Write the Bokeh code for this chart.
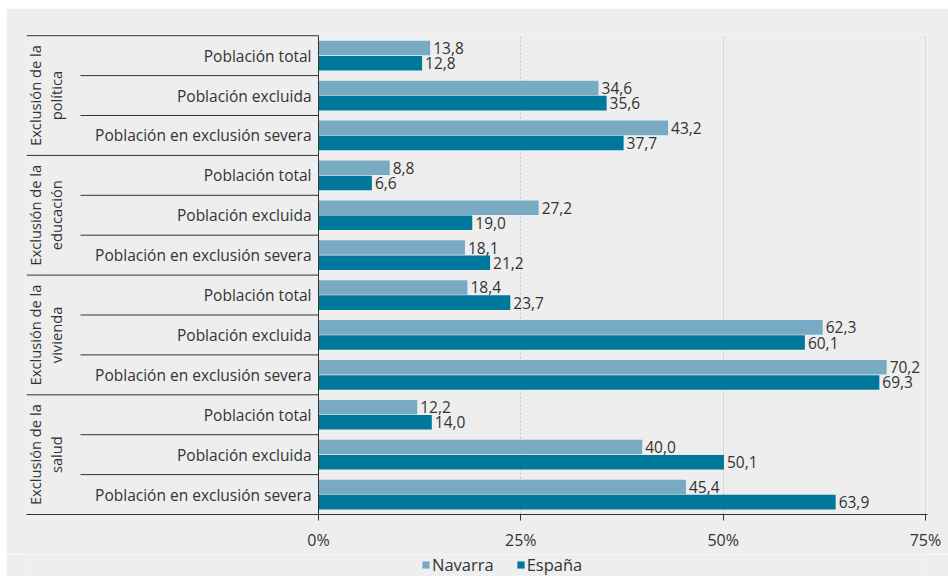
import math
from bokeh.plotting import figure
from bokeh.layouts import column
from bokeh.models import (Range1d, FixedTicker, Legend, LegendItem, ColumnDataSource)
from bokeh.core.properties import value
from bokeh.embed import file_html
from bokeh.resources import INLINE

# ---- data ----
groups = ["Exclusión de la\npolítica", "Exclusión de la\neducación",
          "Exclusión de la\nvivienda", "Exclusión de la\nsalud"]
subcats = ["Población total", "Población excluida", "Población en exclusión severa"]
navarra = [13.8, 34.6, 43.2, 8.8, 27.2, 18.1, 18.4, 62.3, 70.2, 12.2, 40.0, 45.4]
espana = [12.8, 35.6, 37.7, 6.6, 19.0, 21.2, 23.7, 60.1, 69.3, 14.0, 50.1, 63.9]
tick_values = [0, 25, 50, 75]
tick_labels = ["0%", "25%", "50%", "75%"]
series_names = ["Navarra", "España"]

# ---- style ----
FONT = "Open Sans"
TXT = "#333333"
BG = "#eeeeee"
C_NAV = "#78abc3"
C_ESP = "#00789b"
LINE = "#333333"

n_rows = len(navarra)
W, H = 942, 546
LEG_H = 22
S = 8.093                      # px per unit
zero_px = 312
left_b = 20
right_b = 21
x_start = -(zero_px - left_b) / S
x_end = 75 + (W - right_b - (zero_px + 75 * S)) / S

p = figure(width=W, height=H, output_backend="svg", toolbar_location=None,
           x_range=Range1d(x_start, x_end), y_range=Range1d(0, n_rows + 0.03),
           y_axis_location=None, min_border_left=left_b, min_border_right=right_b,
           min_border_top=26, min_border_bottom=40)
p.margin = (8, 0, 0, 6)
p.background_fill_color = BG
p.border_fill_color = BG
p.outline_line_color = None
p.ygrid.grid_line_color = None
p.xgrid.ticker = FixedTicker(ticks=tick_values[1:])
p.xgrid.grid_line_color = "#c4c4c4"
p.xgrid.grid_line_dash = "2 2"
p.xgrid.grid_line_width = 1

ax = p.xaxis[0]
ax.ticker = FixedTicker(ticks=tick_values)
ax.major_label_overrides = {v: l for v, l in zip(tick_values, tick_labels)}
ax.minor_tick_line_color = None
ax.major_tick_in = 0
ax.major_tick_out = 6
ax.major_tick_line_color = LINE
ax.axis_line_color = LINE
ax.major_label_standoff = 8
ax.major_label_text_font = FONT
ax.major_label_text_font_size = "16px"
ax.major_label_text_color = TXT

# row centers (top row first)
yc = [n_rows - i - 0.5 for i in range(n_rows)]
off = 0.19
bh = 0.365
src = ColumnDataSource(dict(
    y_nav=[y + off for y in yc], y_esp=[y - off for y in yc],
    nav=navarra, esp=espana,
    nav_lab=[f"{v:.1f}".replace(".", ",") for v in navarra],
    esp_lab=[f"{v:.1f}".replace(".", ",") for v in espana],
    yc=yc, row_lab=[subcats[i % 3] for i in range(n_rows)],
))

p.hbar(y="y_nav", left=0, right="nav", height=bh, source=src,
       fill_color=C_NAV, line_color=None)
p.hbar(y="y_esp", left=0, right="esp", height=bh, source=src,
       fill_color=C_ESP, line_color=None)

for xcol, ycol, lab in [("nav", "y_nav", "nav_lab"), ("esp", "y_esp", "esp_lab")]:
    p.text(x=xcol, y=ycol, text=lab, source=src, x_offset=3,
           text_align="left", text_baseline="middle",
           text_font=value(FONT), text_font_size="15.5px", text_color=TXT)

# row labels
p.text(x=0, y="yc", text="row_lab", source=src, x_offset=-7,
       text_align="right", text_baseline="middle",
       text_font=value(FONT), text_font_size="15.5px", text_color=TXT)

# group labels (rotated)
gx = (38.5 - zero_px) / S
g_y = [n_rows - 3 * g - 1.5 for g in range(len(groups))]
p.text(x=[gx] * len(groups), y=g_y, text=groups, angle=math.pi / 2,
       text_align="center", text_baseline="middle", text_line_height=1.05,
       text_font=value(FONT), text_font_size="14.7px", text_color=TXT)

# separator lines
grp_y = [n_rows - 3 * g for g in range(len(groups))]
p.segment(x0=[x_start] * len(grp_y), x1=[0] * len(grp_y), y0=grp_y, y1=grp_y,
          line_color=LINE, line_width=1)
sub_y = [y for y in range(1, n_rows) if y % 3 != 0]
sx0 = (74 - zero_px) / S
p.segment(x0=[sx0] * len(sub_y), x1=[0] * len(sub_y), y0=sub_y, y1=sub_y,
          line_color=LINE, line_width=1)
p.segment(x0=[0], x1=[0], y0=[0], y1=[n_rows], line_color=LINE, line_width=1)

# ---- legend strip (separate small figure below) ----
lf = figure(width=W, height=LEG_H, output_backend="svg", toolbar_location=None,
            x_range=Range1d(0, 1), y_range=Range1d(0, 1),
            x_axis_location=None, y_axis_location=None,
            min_border=0, min_border_left=0, min_border_right=0,
            min_border_top=0, min_border_bottom=0)
lf.margin = (0, 0, 0, 6)
lf.background_fill_color = BG
lf.border_fill_color = BG
lf.outline_line_color = None
lf.grid.visible = False
# zero-width helper bars: only their legend swatches are visible
helper = ColumnDataSource(dict(y=[0.5], r=[0]))
l_nav = lf.hbar(y="y", left=0, right="r", height=0.5, source=helper,
                fill_color=C_NAV, line_color=None)
l_esp = lf.hbar(y="y", left=0, right="r", height=0.5, source=helper,
                fill_color=C_ESP, line_color=None)

legend = Legend(items=[LegendItem(label=series_names[0], renderers=[l_nav]),
                       LegendItem(label=series_names[1], renderers=[l_esp])],
                orientation="horizontal", location=(395, 0),
                background_fill_alpha=0, border_line_color=None,
                glyph_width=9, glyph_height=9, label_standoff=2, spacing=22,
                padding=0, margin=0,
                label_text_font=FONT, label_text_font_size="16.5px",
                label_text_color=TXT)
lf.add_layout(legend)

layout = column(p, lf, spacing=0)
open("out.html", "w").write(file_html(layout, INLINE))
